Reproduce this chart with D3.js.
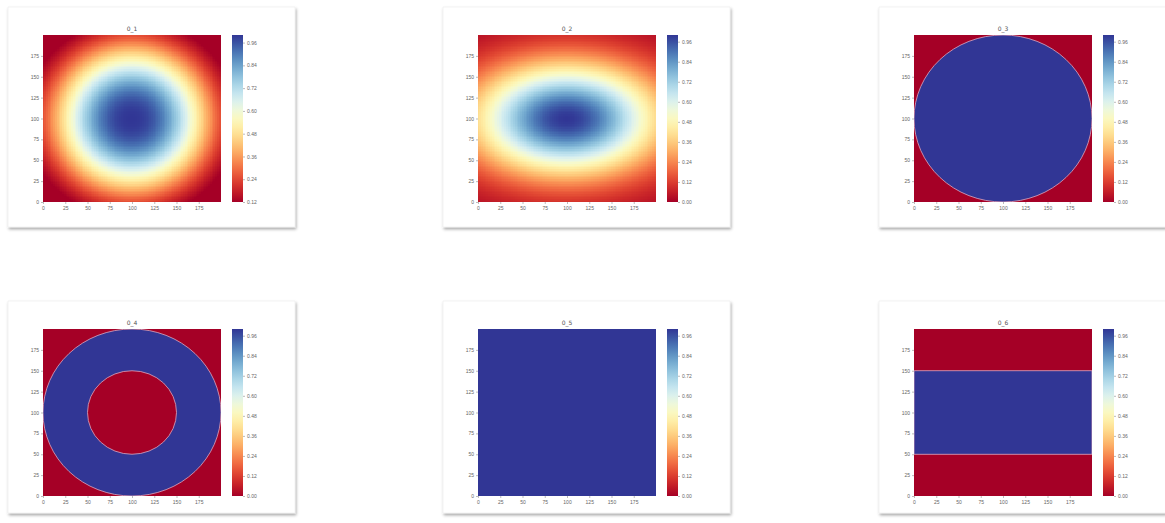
<!DOCTYPE html>
<html>
<head>
<meta charset="utf-8">
<script src="https://cdn.jsdelivr.net/npm/d3@7"></script>
<style>
  body { margin: 0; background: #fff; }
  svg { display: block; font-family: "DejaVu Sans", sans-serif; }
</style>
</head>
<body>
<svg id="chart" width="1165" height="523"></svg>
<script>
// ---- data ----
const panelTitles = ["0_1", "0_2", "0_3", "0_4", "0_5", "0_6"];
const panelKinds = ["gauss", "gauss", "disk", "ring", "full", "band"];
const xTicks = [0, 25, 50, 75, 100, 125, 150, 175];
const yTicks = [0, 25, 50, 75, 100, 125, 150, 175];
const fieldExtent = [0, 200];

// colorbar ranges and tick labels
const cbDomains = [[0.12, 1], [0, 1], [0, 1], [0, 1], [0, 1], [0, 1]];
const cbTicksFirst = [0.12, 0.24, 0.36, 0.48, 0.60, 0.72, 0.84, 0.96];
const cbTicksUnit = [0.00, 0.12, 0.24, 0.36, 0.48, 0.60, 0.72, 0.84, 0.96];

// shape parameters (data units)
const gaussCenter = [100, 100];
const gaussScale = [[87, 87], [104, 66]];   // panel 1 round, panel 2 flattened
const gaussPower = [2.4, 2];
const diskRadius = 100;
const ringRadii = [50, 100];
const bandLimits = [50, 150];
const gridStep = 2;

// ---- layout ----
const plotX = [43, 478, 914];
const plotY = [35, 329];
const plotW = 178, plotH = 167;
const cardH = [220, 212];

const svg = d3.select('#chart');
const defs = svg.append('defs');

const shadow = defs.append('filter').attr('id', 'shadow')
  .attr('x', '-5%').attr('y', '-5%').attr('width', '112%').attr('height', '115%');
shadow.append('feDropShadow')
  .attr('dx', 1).attr('dy', 2).attr('stdDeviation', 1.6)
  .attr('flood-color', '#000').attr('flood-opacity', 0.35);

// shared colorbar gradient (RdYlBu, red at bottom)
const grad = defs.append('linearGradient').attr('id', 'cbgrad')
  .attr('x1', 0).attr('y1', 1).attr('x2', 0).attr('y2', 0);
d3.range(0, 1.0001, 0.05).forEach(t => {
  grad.append('stop').attr('offset', t).attr('stop-color', d3.interpolateRdYlBu(t));
});

const RED = d3.interpolateRdYlBu(0);
const BLUE = d3.interpolateRdYlBu(1);
const EDGE = '#e0a6bd';

// bell-shaped field, peak 1 at the centre
function bellValue(x, y, a, p) {
  const dx = (x - gaussCenter[0]) / a[0], dy = (y - gaussCenter[1]) / a[1];
  return Math.exp(-Math.pow(dx * dx + dy * dy, p / 2));
}

function drawPanel(i) {
  const col = i % 3, row = Math.floor(i / 3);
  const px = plotX[col], py = plotY[row];

  const g = svg.append('g');
  // card
  g.append('rect')
    .attr('x', px - 35).attr('y', py - 28)
    .attr('width', 287).attr('height', cardH[row])
    .attr('fill', '#fff').attr('stroke', '#ececec').attr('stroke-width', 0.6)
    .attr('filter', 'url(#shadow)');

  const x = d3.scaleLinear().domain(fieldExtent).range([px, px + plotW]);
  const y = d3.scaleLinear().domain(fieldExtent).range([py + plotH, py]);
  const dom = cbDomains[i];
  const color = d3.scaleSequential(d3.interpolateRdYlBu).domain(dom).clamp(true);

  const clipId = 'clip' + i;
  defs.append('clipPath').attr('id', clipId)
    .append('rect').attr('x', px).attr('y', py).attr('width', plotW).attr('height', plotH);
  const plot = g.append('g').attr('clip-path', `url(#${clipId})`);

  const kind = panelKinds[i];
  if (kind === 'gauss') {
    const a = gaussScale[i], p = gaussPower[i];
    const cells = [];
    for (let cx = fieldExtent[0]; cx < fieldExtent[1]; cx += gridStep) {
      for (let cy = fieldExtent[0]; cy < fieldExtent[1]; cy += gridStep) {
        const v = bellValue(cx + gridStep / 2, cy + gridStep / 2, a, p);
        cells.push({ cx, cy, v });
      }
    }
    // each cell reaches to the start of the next one, so no seams show
    plot.selectAll('rect.cell').data(cells).join('rect')
      .attr('class', 'cell')
      .attr('shape-rendering', 'crispEdges')
      .attr('x', d => Math.floor(x(d.cx)))
      .attr('y', d => Math.floor(y(d.cy + gridStep)))
      .attr('width', d => Math.ceil(x(d.cx + gridStep)) - Math.floor(x(d.cx)))
      .attr('height', d => Math.ceil(y(d.cy)) - Math.floor(y(d.cy + gridStep)))
      .attr('fill', d => color(d.v));
  } else {
    // flat background in the low colour
    plot.append('rect')
      .attr('x', x(fieldExtent[0])).attr('y', y(fieldExtent[1]))
      .attr('width', plotW).attr('height', plotH)
      .attr('fill', kind === 'full' ? BLUE : RED);

    if (kind === 'disk' || kind === 'ring') {
      const outer = kind === 'disk' ? diskRadius : ringRadii[1];
      plot.append('ellipse')
        .attr('cx', x(gaussCenter[0])).attr('cy', y(gaussCenter[1]))
        .attr('rx', x(outer) - x(0)).attr('ry', y(0) - y(outer))
        .attr('fill', BLUE).attr('stroke', EDGE).attr('stroke-width', 0.8);
      if (kind === 'ring') {
        plot.append('ellipse')
          .attr('cx', x(gaussCenter[0])).attr('cy', y(gaussCenter[1]))
          .attr('rx', x(ringRadii[0]) - x(0)).attr('ry', y(0) - y(ringRadii[0]))
          .attr('fill', RED).attr('stroke', EDGE).attr('stroke-width', 0.8);
      }
    }
    if (kind === 'band') {
      plot.append('rect')
        .attr('x', x(fieldExtent[0])).attr('y', y(bandLimits[1]))
        .attr('width', plotW).attr('height', y(bandLimits[0]) - y(bandLimits[1]))
        .attr('fill', BLUE).attr('stroke', EDGE).attr('stroke-width', 0.8);
    }
  }

  // axes
  const xAxis = g.append('g').attr('transform', `translate(0,${py + plotH})`)
    .call(d3.axisBottom(x).tickValues(xTicks).tickSize(2).tickPadding(2));
  const yAxis = g.append('g').attr('transform', `translate(${px},0)`)
    .call(d3.axisLeft(y).tickValues(yTicks).tickSize(2).tickPadding(2));
  [xAxis, yAxis].forEach(ax => {
    ax.select('.domain').remove();
    ax.selectAll('line').attr('stroke', '#777').attr('stroke-width', 0.5);
    ax.selectAll('text').attr('fill', '#666').style('font-size', '5px');
  });

  // title
  g.append('text')
    .attr('x', px + plotW / 2).attr('y', py - 4)
    .attr('text-anchor', 'middle')
    .attr('fill', '#555').style('font-size', '6px')
    .text(panelTitles[i]);

  // colorbar
  const cbX = px + plotW + 11, cbW = 11;
  g.append('rect')
    .attr('x', cbX).attr('y', py).attr('width', cbW).attr('height', plotH)
    .attr('fill', 'url(#cbgrad)');
  const cbScale = d3.scaleLinear().domain(dom).range([py + plotH, py]);
  const cbAxis = g.append('g').attr('transform', `translate(${cbX + cbW},0)`)
    .call(d3.axisRight(cbScale)
      .tickValues(i === 0 ? cbTicksFirst : cbTicksUnit)
      .tickFormat(d3.format('.2f'))
      .tickSize(2).tickPadding(2));
  cbAxis.select('.domain').remove();
  cbAxis.selectAll('line').attr('stroke', '#777').attr('stroke-width', 0.5);
  cbAxis.selectAll('text').attr('fill', '#666').style('font-size', '5px');
}

panelTitles.forEach((t, i) => drawPanel(i));
</script>
</body>
</html>
